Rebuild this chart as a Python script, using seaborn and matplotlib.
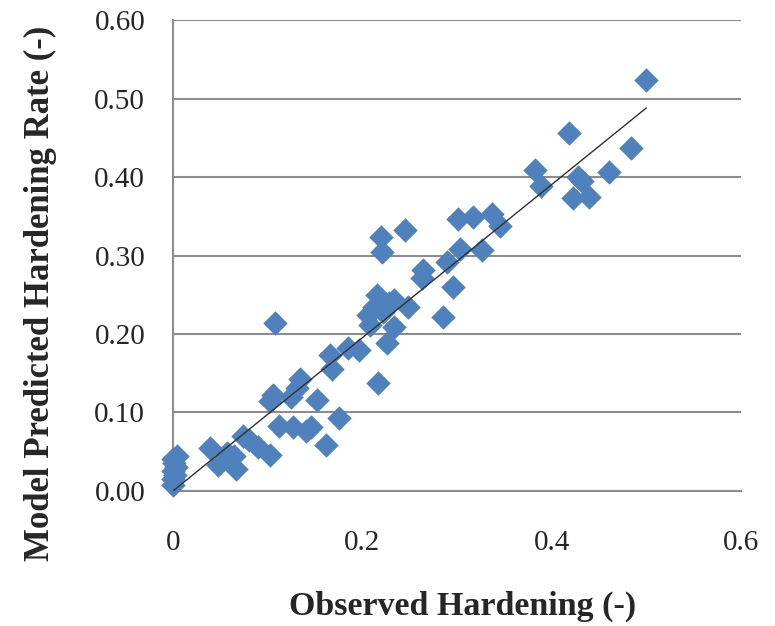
import matplotlib
matplotlib.use("Agg")
import matplotlib.pyplot as plt
import seaborn as sns
import pandas as pd

# Observed vs. model predicted hardening
observed = [
    0.000, 0.000, 0.002, 0.000, 0.003, 0.001, 0.000, 0.004,
    0.039, 0.048, 0.057, 0.064, 0.067, 0.074, 0.080, 0.090,
    0.102, 0.102, 0.106, 0.108, 0.112, 0.125, 0.127, 0.131,
    0.134, 0.141, 0.146, 0.152, 0.162, 0.166, 0.168, 0.175,
    0.185, 0.197, 0.206, 0.208, 0.212, 0.215, 0.217, 0.220,
    0.221, 0.222, 0.226, 0.228, 0.233, 0.233, 0.245, 0.248,
    0.263, 0.264, 0.285, 0.289, 0.296, 0.301, 0.303, 0.317,
    0.326, 0.337, 0.345, 0.382, 0.389, 0.418, 0.423, 0.428,
    0.432, 0.439, 0.461, 0.484, 0.500,
]
predicted = [
    0.008, 0.015, 0.020, 0.026, 0.031, 0.036, 0.041, 0.045,
    0.055, 0.033, 0.048, 0.044, 0.028, 0.070, 0.065, 0.056,
    0.046, 0.114, 0.122, 0.214, 0.083, 0.120, 0.082, 0.131,
    0.143, 0.076, 0.081, 0.116, 0.058, 0.173, 0.156, 0.093,
    0.182, 0.180, 0.224, 0.211, 0.235, 0.250, 0.137, 0.324,
    0.305, 0.228, 0.188, 0.240, 0.243, 0.209, 0.333, 0.234,
    0.271, 0.281, 0.222, 0.292, 0.260, 0.346, 0.308, 0.349,
    0.307, 0.353, 0.337, 0.409, 0.388, 0.456, 0.373, 0.400,
    0.395, 0.375, 0.407, 0.437, 0.524,
]

# trend line
fit_x = [0.0, 0.5]
fit_y = [0.0, 0.488]

x_ticks = [0.0, 0.2, 0.4, 0.6]
x_tick_labels = ["0", "0.2", "0.4", "0.6"]
y_ticks = [0.0, 0.1, 0.2, 0.3, 0.4, 0.5, 0.6]
y_tick_labels = ["0.00", "0.10", "0.20", "0.30", "0.40", "0.50", "0.60"]

df = pd.DataFrame({"observed": observed, "predicted": predicted})

sns.set_style("white")
plt.rcParams["font.family"] = ["Liberation Serif", "DejaVu Serif"]

grid_col = "#8c8c8c"

fig = plt.figure(figsize=(7.75, 6.26), dpi=100)
ax = fig.add_axes([0.2232, 0.2157, 0.7329, 0.7523])

sns.scatterplot(data=df, x="observed", y="predicted", marker="D", s=155,
                color="#4F81BD", linewidth=0, ax=ax, zorder=3, clip_on=False)
sns.lineplot(x=fit_x, y=fit_y, color="#303030", lw=1.0, ax=ax, zorder=4)

ax.set_xlim(0, 0.6)
ax.set_ylim(0, 0.6)
ax.set_xticks(x_ticks)
ax.set_xticklabels(x_tick_labels)
ax.set_yticks(y_ticks)
ax.set_yticklabels(y_tick_labels)
ax.tick_params(axis="both", length=0, labelsize=21)
ax.tick_params(axis="x", pad=28)
ax.tick_params(axis="y", pad=20)

ax.yaxis.grid(True, color=grid_col, lw=1.5)
ax.xaxis.grid(False)
ax.set_axisbelow(True)

for side in ["top", "right"]:
    ax.spines[side].set_visible(False)
for side in ["left", "bottom"]:
    ax.spines[side].set_color(grid_col)
    ax.spines[side].set_linewidth(1.5)
    ax.spines[side].set_zorder(1)

ax.set_xlabel("Observed Hardening (-)", fontsize=24.5, fontweight="bold")
ax.set_ylabel("Model Predicted Hardening Rate (-)", fontsize=25, fontweight="bold")
# labels sit lower / further out than the default positions
ax.xaxis.set_label_coords(0.51, -0.212)
ax.yaxis.set_label_coords(-0.205, 0.42)

fig.savefig("out.png", dpi=100)
